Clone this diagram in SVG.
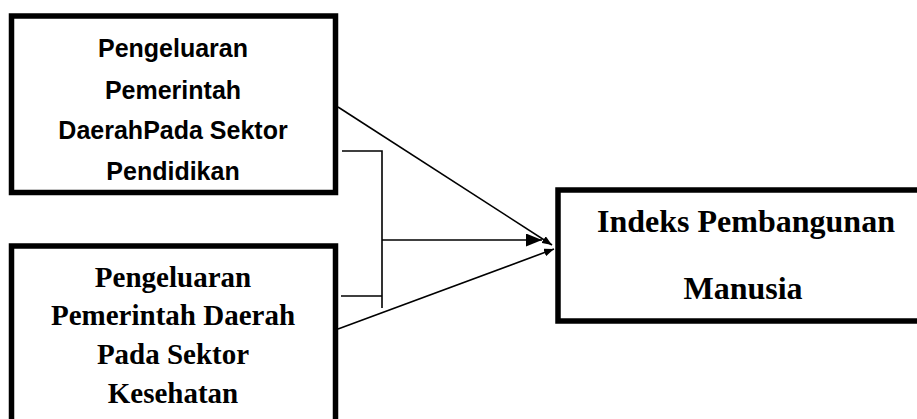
<svg xmlns="http://www.w3.org/2000/svg" width="917" height="419" viewBox="0 0 917 419">
<style>
.box{fill:#fff;stroke:#000;stroke-width:5.5}
.sans{font-family:"Liberation Sans",Arial,sans-serif;font-weight:bold;font-size:25px;fill:#000;text-anchor:middle}
.serif{font-family:"Liberation Serif","Times New Roman",serif;font-weight:bold;fill:#000;text-anchor:middle}
.ln{fill:none;stroke:#000;stroke-width:1.6}
</style>
<defs>
<marker id="ah" markerWidth="10" markerHeight="8" refX="10" refY="4" orient="auto" markerUnits="userSpaceOnUse" viewBox="0 0 10 8">
<path d="M0,0 L10,4 L0,8 Z" fill="#000"/>
</marker>
<marker id="ah2" markerWidth="16" markerHeight="13" refX="16" refY="6.5" orient="auto" markerUnits="userSpaceOnUse" viewBox="0 0 16 13">
<path d="M0,0 L16,6.5 L0,13 Z" fill="#000"/>
</marker>
</defs>
<g id="node-pendidikan">
<rect class="box" x="11.5" y="16" width="324" height="176.5"/>
<text class="sans" x="173" y="57">Pengeluaran</text>
<text class="sans" x="173" y="98.5">Pemerintah</text>
<text class="sans" x="173" y="139">DaerahPada Sektor</text>
<text class="sans" x="173" y="180">Pendidikan</text>
</g>
<g id="node-kesehatan">
<rect class="box" x="11.5" y="246" width="324" height="190"/>
<text class="serif" font-size="29" x="173" y="287">Pengeluaran</text>
<text class="serif" font-size="29" x="173" y="325">Pemerintah Daerah</text>
<text class="serif" font-size="29" x="173" y="363.5">Pada Sektor</text>
<text class="serif" font-size="29" x="173" y="402.5">Kesehatan</text>
</g>
<g id="node-ipm">
<rect class="box" x="558" y="190" width="380" height="131"/>
<text class="serif" font-size="32" x="746" y="232">Indeks Pembangunan</text>
<text class="serif" font-size="32" x="743" y="299">Manusia</text>
</g>
<g id="connectors">
<path class="ln" d="M342,151 H382 V308 M341,296 H382"/>
<path class="ln" d="M382,240 H542" marker-end="url(#ah2)"/>
<path class="ln" d="M338,107 L552,245" marker-end="url(#ah)"/>
<path class="ln" d="M338,329 L554,249" marker-end="url(#ah)"/>
</g>
</svg>
